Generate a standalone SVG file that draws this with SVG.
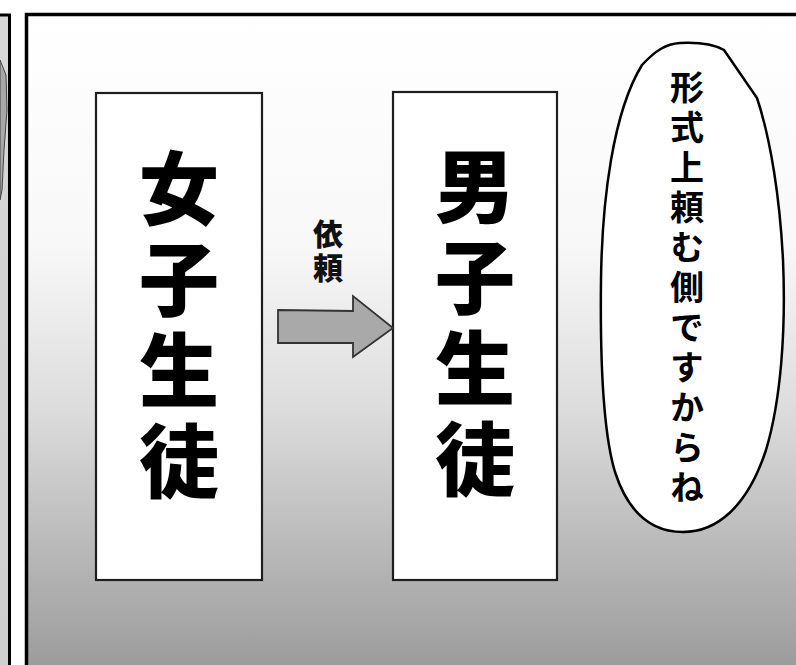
<svg xmlns="http://www.w3.org/2000/svg" width="796" height="665" viewBox="0 0 796 665">
<defs>
<linearGradient id="bg" x1="0" y1="0" x2="0" y2="1">
<stop offset="0" stop-color="#ffffff"/>
<stop offset="0.35" stop-color="#f8f8f8"/>
<stop offset="0.6" stop-color="#dcdcdc"/>
<stop offset="0.85" stop-color="#b2b2b2"/>
<stop offset="1" stop-color="#9a9a9a"/>
</linearGradient>
<linearGradient id="side" x1="0" y1="0" x2="0" y2="1">
<stop offset="0" stop-color="#d8d8d8"/>
<stop offset="1" stop-color="#cfcfcf"/>
</linearGradient>
<style>
.box{fill:#ffffff;stroke:#1e1e1e;stroke-width:2.2}
.v{writing-mode:vertical-rl;text-anchor:middle;font-family:"Noto Sans CJK JP","Noto Sans CJK SC",sans-serif}
.big{font-weight:900;font-size:80px;letter-spacing:11px;fill:#000}
.mid{font-weight:900;font-size:30px;letter-spacing:4px;fill:#111}
.say{font-weight:700;font-size:34px;letter-spacing:6px;fill:#000}
</style>
</defs>
<rect x="0" y="0" width="796" height="665" fill="#ffffff"/>
<g id="left-panel">
<rect x="0" y="15" width="9.5" height="650" fill="url(#side)"/>
<path d="M0,60 L6,75 L7,110 L4,150 L2,190 L0,200 Z" fill="#a8a8a8" stroke="#444" stroke-width="1"/>
<path d="M0,15 H9.5 V665" fill="none" stroke="#000" stroke-width="3"/>
</g>
<g id="panel">
<rect x="26.5" y="14.5" width="775" height="660" fill="url(#bg)" stroke="#000" stroke-width="3.5"/>
</g>
<g id="girls">
<rect class="box" x="96" y="93" width="166" height="487"/>
<text class="v big" x="179" y="330">女子生徒</text>
</g>
<g id="boys">
<rect class="box" x="393" y="92" width="164" height="488"/>
<text class="v big" x="475" y="328">男子生徒</text>
</g>
<g id="connectors">
<path d="M278,310 L353,311 L353,296 L393,328 L353,357 L353,343 L278,343 Z" fill="#a9a9a9" stroke="#333" stroke-width="1.8" stroke-linejoin="miter"/>
<text class="v mid" x="328" y="253">依頼</text>
</g>
<g id="bubble">
<path d="M680,43 C700,42 715,45 724,50 L757,98 C771,140 780,200 783,260 C786,330 781,400 766,450 C747,508 716,532 683,532 C650,532 628,512 615,472 C603,432 600,360 601,280 C602,200 613,112 642,65 C656,50 666,44 680,43 Z" fill="#ffffff" stroke="#000" stroke-width="2.5"/>
<text class="v say" x="687" y="290">形式上頼む側ですからね</text>
</g>
</svg>
